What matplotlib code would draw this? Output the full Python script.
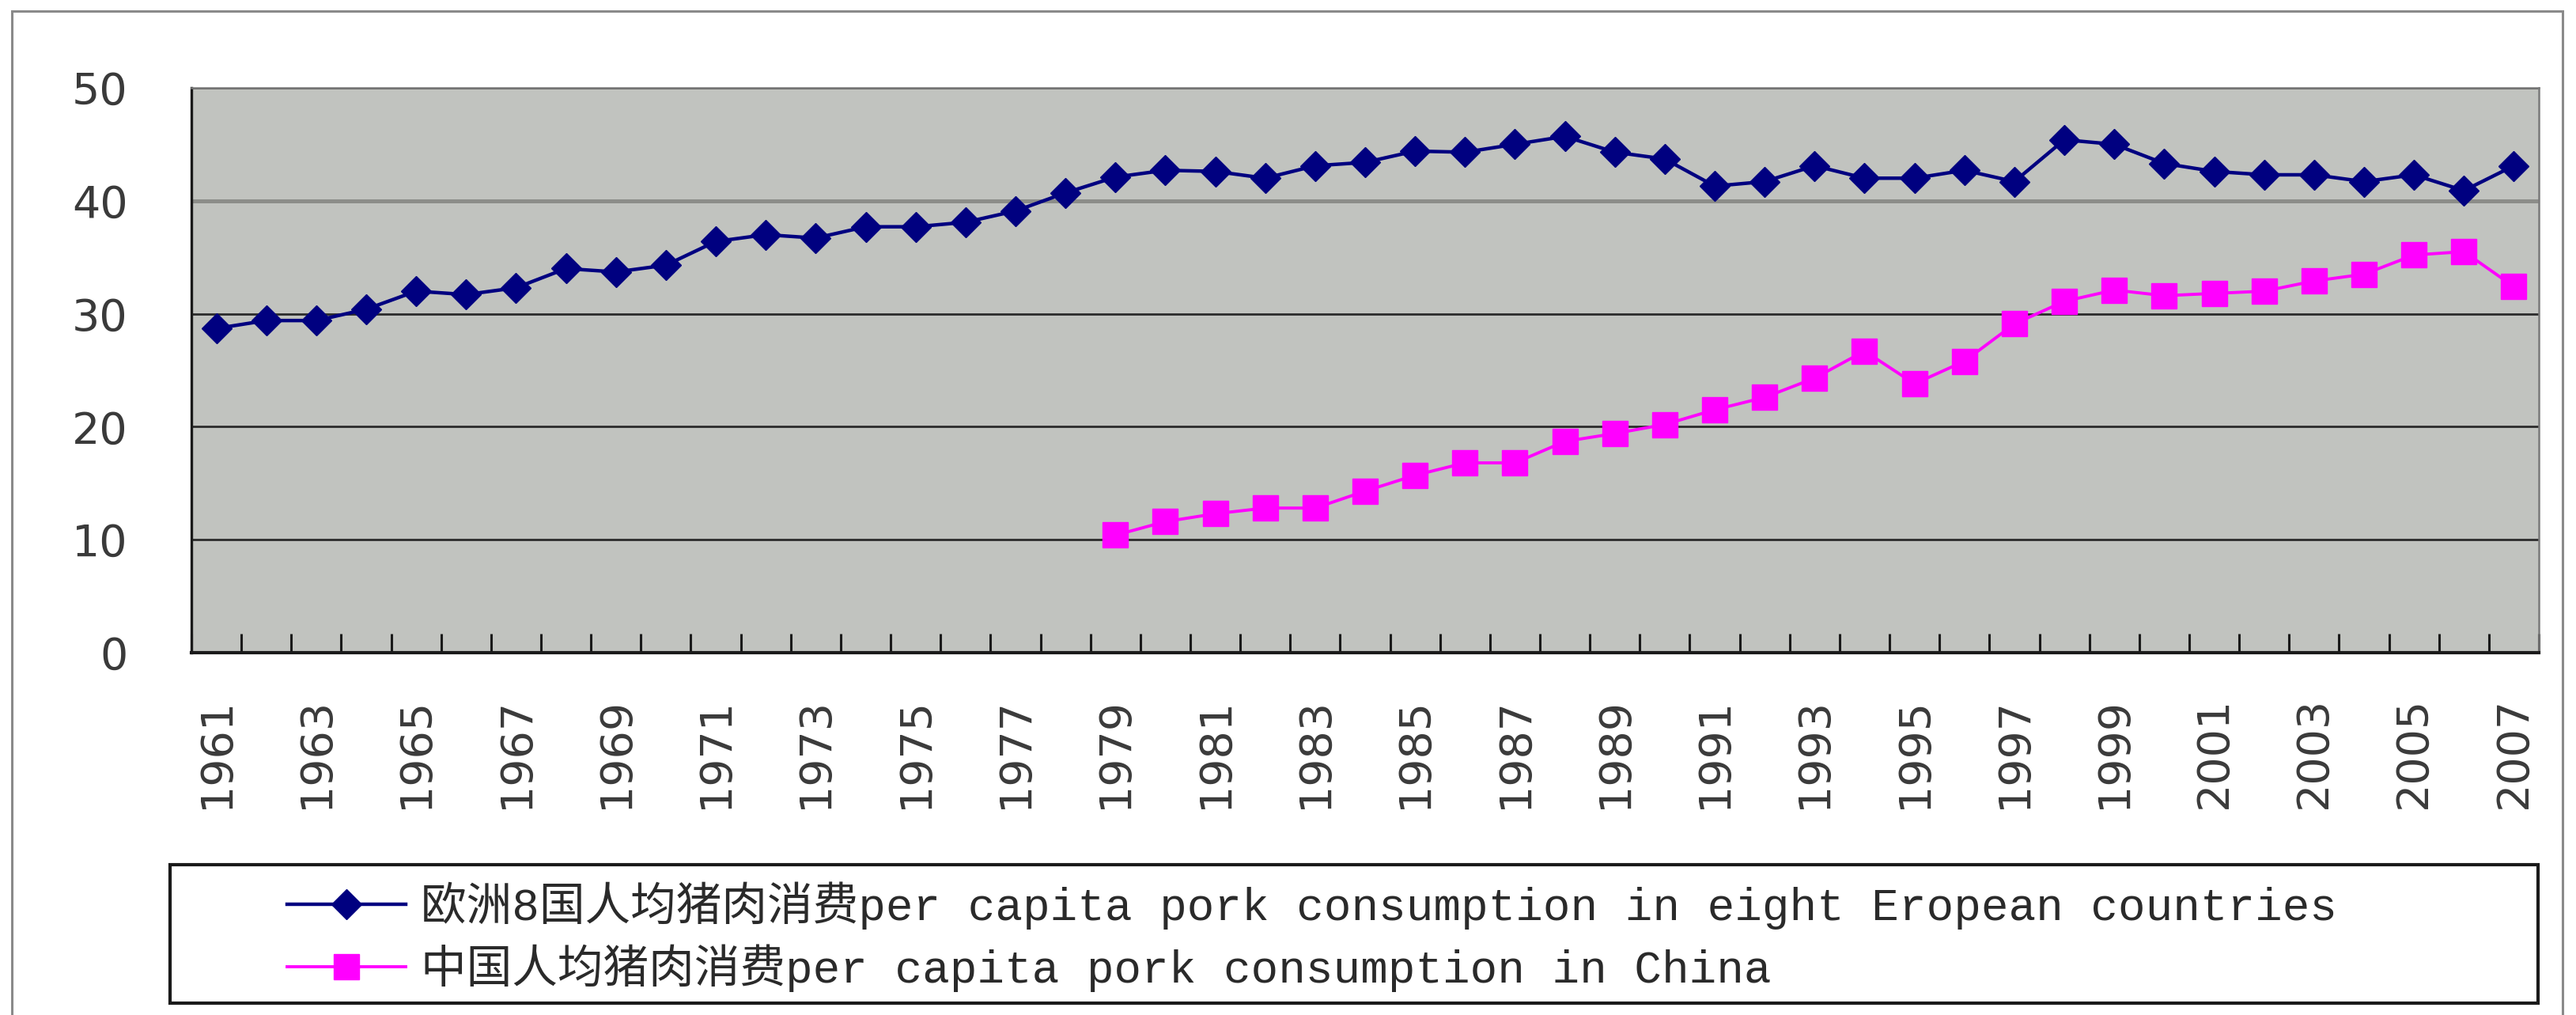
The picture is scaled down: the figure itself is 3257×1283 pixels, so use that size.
import matplotlib
matplotlib.use("Agg")
import matplotlib.pyplot as plt
from matplotlib.patches import Rectangle
from matplotlib.lines import Line2D
import numpy as np

# ---- data ----
years = list(range(1961, 2008))
europe = [28.7, 29.4, 29.4, 30.4, 32.0, 31.7, 32.3, 34.0, 33.7, 34.3, 36.4, 37.0,
          36.7, 37.7, 37.7, 38.1, 39.1, 40.7, 42.1, 42.7, 42.6, 42.0, 43.1, 43.4,
          44.4, 44.3, 45.0, 45.7, 44.3, 43.7, 41.3, 41.7, 43.1, 42.0, 42.0, 42.7,
          41.7, 45.4, 45.0, 43.3, 42.6, 42.3, 42.3, 41.7, 42.3, 40.9, 43.1]
china_start = 1979
china = [10.4, 11.6, 12.3, 12.8, 12.8, 14.3,
         15.7, 16.8, 16.8, 18.7, 19.4, 20.2, 21.5, 22.6, 24.3, 26.7, 23.8, 25.8,
         29.1, 31.1, 32.1, 31.6, 31.8, 32.0, 32.9, 33.5, 35.2, 35.5, 32.4]
yticks = [0, 10, 20, 30, 40, 50]
label_eu = "欧洲8国人均猪肉消费per capita pork consumption in eight Eropean countries"
label_cn = "中国人均猪肉消费per capita pork consumption in China"

W, H = 3257, 1283
DPI = 100
fig = plt.figure(figsize=(W / DPI, H / DPI), dpi=DPI)
fig.patch.set_facecolor("white")

def fx(px):
    return px / W

def fy(py):
    return 1 - py / H

ax = fig.add_axes([fx(242), fy(825), fx(3210) - fx(242), fy(111) - fy(825)])
ax.set_facecolor("#C1C3BF")

EU_STYLE = dict(color="#000080", lw=3.2, marker="D", ms=19)
CN_STYLE = dict(color="#FF00FF", lw=2.8, marker="s", ms=23)

x = np.arange(len(years))
china_full = [np.nan] * (china_start - years[0]) + china
ax.plot(x, europe, zorder=5, **EU_STYLE)
ax.plot(x, china_full, zorder=5, **CN_STYLE)

ax.set_xlim(-0.5, len(years) - 0.5)
ax.set_ylim(yticks[0], yticks[-1])
ax.set_yticks(yticks)
ax.set_yticklabels([str(v) for v in yticks])

# horizontal gridlines
ax.yaxis.grid(True, color="#2b2b2b", lw=2.0, zorder=1)
for gl, v in zip(ax.get_ygridlines(), yticks):
    if v == 40:
        gl.set_color("#8c8d89")
        gl.set_linewidth(3.6)
ax.set_axisbelow(True)

# x ticks: labels every other year, tick marks at category boundaries
ax.set_xticks(x[::2])
ax.set_xticklabels([str(y) for y in years[::2]], rotation=90, va="top", ha="center")
ax.set_xticks(np.arange(-0.5, len(years), 1.0), minor=True)
ax.tick_params(axis="x", which="major", length=0, pad=40, labelsize=40, labelcolor="#3a3a3a")
ax.tick_params(axis="x", which="minor", direction="in", length=17, width=2.2, color="#1a1a1a")
ax.tick_params(axis="y", which="major", length=0, pad=58, labelsize=40, labelcolor="#3a3a3a")

for lab in ax.get_xticklabels() + ax.get_yticklabels():
    lab.set_family("DejaVu Sans")

ax.spines["left"].set_color("#1a1a1a")
ax.spines["left"].set_linewidth(2.4)
ax.spines["bottom"].set_color("#1a1a1a")
ax.spines["bottom"].set_linewidth(3.0)
ax.spines["top"].set_color("#7a7a7a")
ax.spines["top"].set_linewidth(1.8)
ax.spines["right"].set_color("#7a7a7a")
ax.spines["right"].set_linewidth(1.8)

# outer border
fig.patches.append(Rectangle((fx(15), -0.02), fx(3240) - fx(15), fy(14) + 0.02,
                             transform=fig.transFigure, fill=False,
                             edgecolor="#8a8a8a", lw=2.2, zorder=0))

# legend box
fig.patches.append(Rectangle((fx(215), fy(1268)), fx(3209) - fx(215), fy(1093) - fy(1268),
                             transform=fig.transFigure, facecolor="white",
                             edgecolor="#1a1a1a", lw=3.0, zorder=1))

handles = [Line2D([], [], **EU_STYLE), Line2D([], [], **CN_STYLE)]
leg = fig.legend(handles, [label_eu, label_cn], loc="center left",
                 bbox_to_anchor=(fx(363), fy(1184)), frameon=False,
                 borderpad=0, borderaxespad=0, numpoints=1,
                 handlelength=2.6, handletextpad=0.34, labelspacing=0.32,
                 prop={"family": ["Liberation Mono", "Noto Sans CJK SC"], "size": 41.5})
for t in leg.get_texts():
    t.set_color("#2a2a2a")

fig.savefig("out.png", dpi=DPI)
